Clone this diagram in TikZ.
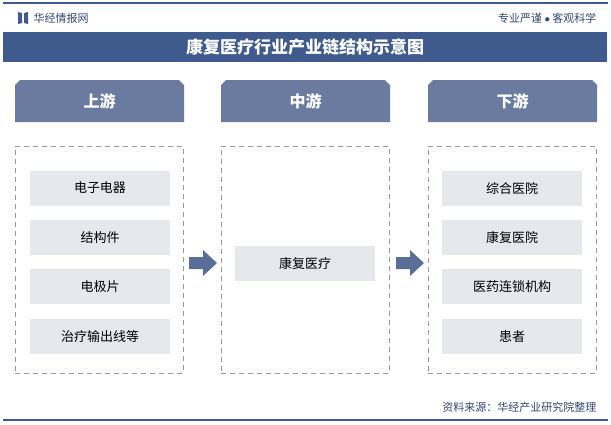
\documentclass[tikz,border=0pt]{standalone}
\usepackage{fontspec}
\setmainfont{Noto Sans CJK SC}
\usepackage{tikz}
\usetikzlibrary{positioning}
\definecolor{navy}{HTML}{3F5A8C}
\definecolor{slate}{HTML}{6A7B9F}
\definecolor{itemgray}{HTML}{E6E8EE}
\definecolor{arrowblue}{HTML}{5A6E98}

\begin{document}
\begin{tikzpicture}[x=1pt,y=-1pt,
      stagehead/.style={text=white,font=\fontsize{16}{16}\selectfont\bfseries},
      chainbox/.style={draw=gray!80,dash pattern=on 5pt off 4pt,thick,minimum width=168pt,minimum height=227pt,anchor=north west},
      itembox/.style={fill=itemgray,minimum width=140pt,minimum height=35pt,font=\fontsize{13}{13}\selectfont},
      flowarrow/.style={fill=arrowblue}
    ]
    \useasboundingbox (0,0) rectangle (611,424);
    \fill[white] (0,0) rectangle (611,424);

    \draw[navy,line width=1.5pt] (3,3) -- (608,3);
    \draw[navy,line width=1.5pt] (3,420) -- (608,420);
    \node[anchor=west,font=\fontsize{11}{11}\selectfont,text=navy!80!black] (logo) at (30,18) {华经情报网};
    \fill[navy] (18,12) -- (22,13) -- (22,23) -- (18,24) -- cycle;
    \fill[navy] (28,12) -- (24,13) -- (24,23) -- (28,24) -- cycle;
    \node[anchor=east,font=\fontsize{11}{11}\selectfont,text=navy!80!black] (motto) at (600,18) {专业严谨 $\bullet$ 客观科学};

    \node[fill=navy,minimum width=604pt,minimum height=30pt,anchor=north west,
      text=white,font=\fontsize{17}{17}\selectfont\bfseries] (title) at (3,32) {康复医疗行业产业链结构示意图};

    % stage headers
    \foreach \n/\x/\t in {up/15/上游,mid/221/中游,down/428/下游}{
      \fill[slate] (\x,122) -- (\x,85) -- (\x+5,80) -- (\x+164,80) -- (\x+169,85) -- (\x+169,122) -- cycle;
      \node[stagehead] (\n head) at (\x+84.5,101) {\t};
      \node[chainbox] (\n box) at (\x,146) {};
    }

    \node[itembox] (up0) at (100,188) {电子电器};
    \node[itembox,below=14pt of up0] (up1) {结构件};
    \node[itembox,below=14pt of up1] (up2) {电极片};
    \node[itembox,below=14pt of up2] (up3) {治疗输出线等};

    \node[itembox] (mid0) at (305,263) {康复医疗};

    \node[itembox] (down0) at (512,188) {综合医院};
    \node[itembox,below=14pt of down0] (down1) {康复医院};
    \node[itembox,below=14pt of down1] (down2) {医药连锁机构};
    \node[itembox,below=14pt of down2] (down3) {患者};

    % arrows
    \foreach \x in {189,396}{
      \fill[flowarrow] (\x,257) -- (\x+14,257) -- (\x+14,250) -- (\x+28,263)
        -- (\x+14,276) -- (\x+14,269) -- (\x,269) -- cycle;
    }

    \node[anchor=east,font=\fontsize{11}{11}\selectfont,text=navy!80!black] (source) at (600,407) {资料来源：华经产业研究院整理};
  \end{tikzpicture}
\end{document}
